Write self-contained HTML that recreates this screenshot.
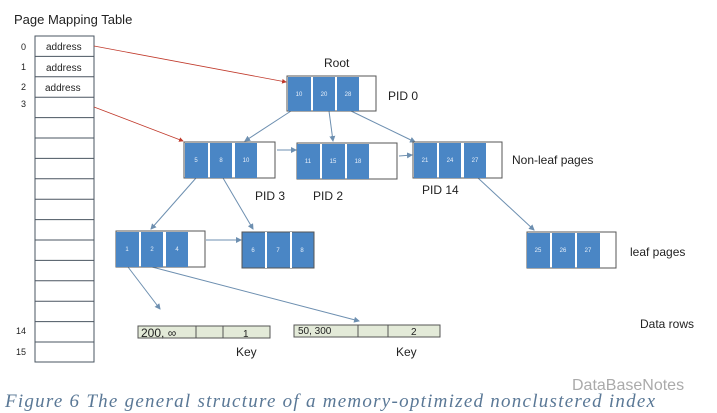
<!DOCTYPE html><html><head><style>body{margin:0;background:#fff}svg{display:block}</style></head><body>
<svg width="717" height="413" xmlns="http://www.w3.org/2000/svg" font-family="Liberation Sans, sans-serif">
<defs>
<marker id="b" markerWidth="6" markerHeight="6" refX="5" refY="3" orient="auto"><path d="M0,0L6,3L0,6z" fill="#6d8fb0"/></marker>
<marker id="r" markerWidth="6" markerHeight="6" refX="5" refY="3" orient="auto"><path d="M0,0L6,3L0,6z" fill="#c0392b"/></marker>
</defs>
<text x="14" y="24" font-size="13" fill="#222">Page Mapping Table</text>
<g stroke="#4a5560" stroke-width="1" fill="#fff">
<rect x="35" y="36" width="59" height="326"/>
<line x1="35" y1="56.4" x2="94" y2="56.4"/><line x1="35" y1="76.8" x2="94" y2="76.8"/><line x1="35" y1="97.2" x2="94" y2="97.2"/><line x1="35" y1="117.6" x2="94" y2="117.6"/><line x1="35" y1="138" x2="94" y2="138"/><line x1="35" y1="158.4" x2="94" y2="158.4"/><line x1="35" y1="178.8" x2="94" y2="178.8"/><line x1="35" y1="199.2" x2="94" y2="199.2"/><line x1="35" y1="219.6" x2="94" y2="219.6"/><line x1="35" y1="240" x2="94" y2="240"/><line x1="35" y1="260.4" x2="94" y2="260.4"/><line x1="35" y1="280.8" x2="94" y2="280.8"/><line x1="35" y1="301.2" x2="94" y2="301.2"/><line x1="35" y1="321.6" x2="94" y2="321.6"/><line x1="35" y1="342" x2="94" y2="342"/>
</g>
<g font-size="9" fill="#222"><text x="21" y="50">0</text><text x="21" y="70">1</text><text x="21" y="90">2</text><text x="21" y="107">3</text><text x="16" y="334">14</text><text x="16" y="355">15</text></g>
<g font-size="10" fill="#222"><text x="46" y="50">address</text><text x="46" y="71">address</text><text x="45" y="91">address</text></g>
<g stroke="#6d8fb0" stroke-width="1" fill="none" marker-end="url(#b)">
<line x1="291" y1="111" x2="245" y2="141"/><line x1="329" y1="111" x2="333" y2="141"/><line x1="351" y1="111" x2="415" y2="142"/>
<line x1="277" y1="150" x2="296" y2="150"/><line x1="399" y1="156" x2="412" y2="155"/>
<line x1="196" y1="178" x2="151" y2="229"/><line x1="223" y1="178" x2="253" y2="229"/><line x1="478" y1="178" x2="534" y2="230"/>
<line x1="206" y1="240" x2="241" y2="240"/>
<line x1="128" y1="267" x2="160" y2="309"/><line x1="152" y1="267" x2="359" y2="321"/>
</g>
<g stroke="#c0392b" stroke-width="0.8" marker-end="url(#r)"><line x1="94" y1="46" x2="286" y2="82"/><line x1="94" y1="107" x2="183" y2="141"/></g>
<g font-size="6" fill="#e8f0fa" text-anchor="middle">
<rect x="287" y="76" width="89" height="35" fill="#fff" stroke="#555"/>
<rect x="288" y="77" width="23" height="34" fill="#4a86c5"/><rect x="313" y="77" width="22" height="34" fill="#4a86c5"/><rect x="337" y="77" width="22" height="34" fill="#4a86c5"/>
<text x="299" y="96">10</text><text x="324" y="96">20</text><text x="348" y="96">28</text>
<rect x="184" y="142" width="91" height="36" fill="#fff" stroke="#555"/>
<rect x="185" y="143" width="23" height="35" fill="#4a86c5"/><rect x="210" y="143" width="22" height="35" fill="#4a86c5"/><rect x="235" y="143" width="22" height="35" fill="#4a86c5"/>
<text x="196" y="162">5</text><text x="221" y="162">8</text><text x="246" y="162">10</text>
<rect x="297" y="143" width="100" height="36" fill="#fff" stroke="#555"/>
<rect x="297" y="144" width="23" height="35" fill="#4a86c5"/><rect x="322" y="144" width="23" height="35" fill="#4a86c5"/><rect x="347" y="144" width="22" height="35" fill="#4a86c5"/>
<text x="308" y="163">11</text><text x="333" y="163">15</text><text x="358" y="163">18</text>
<rect x="413" y="142" width="89" height="36" fill="#fff" stroke="#555"/>
<rect x="414" y="143" width="23" height="35" fill="#4a86c5"/><rect x="439" y="143" width="22" height="35" fill="#4a86c5"/><rect x="464" y="143" width="22" height="35" fill="#4a86c5"/>
<text x="425" y="162">21</text><text x="450" y="162">24</text><text x="475" y="162">27</text>
<rect x="116" y="231" width="89" height="36" fill="#fff" stroke="#555"/>
<rect x="116" y="232" width="23" height="35" fill="#4a86c5"/><rect x="141" y="232" width="22" height="35" fill="#4a86c5"/><rect x="166" y="232" width="22" height="35" fill="#4a86c5"/>
<text x="127" y="251">1</text><text x="152" y="251">2</text><text x="177" y="251">4</text>
<rect x="242" y="232" width="72" height="36" fill="#4a86c5" stroke="#555"/>
<rect x="265" y="232" width="2" height="36" fill="#fff"/><rect x="290" y="232" width="2" height="36" fill="#fff"/>
<text x="253" y="252">6</text><text x="278" y="252">7</text><text x="302" y="252">8</text>
<rect x="527" y="232" width="89" height="36" fill="#fff" stroke="#555"/>
<rect x="527" y="233" width="23" height="35" fill="#4a86c5"/><rect x="552" y="233" width="23" height="35" fill="#4a86c5"/><rect x="577" y="233" width="23" height="35" fill="#4a86c5"/>
<text x="538" y="252">25</text><text x="563" y="252">26</text><text x="588" y="252">27</text>
</g>
<g font-size="12" fill="#222">
<text x="324" y="67">Root</text><text x="388" y="100">PID 0</text><text x="512" y="164">Non-leaf pages</text>
<text x="255" y="200">PID 3</text><text x="313" y="200">PID 2</text><text x="422" y="194">PID 14</text>
<text x="630" y="256">leaf pages</text><text x="640" y="328">Data rows</text>
<text x="236" y="356">Key</text><text x="396" y="356">Key</text></g>
<g stroke="#555" fill="#e3ead8">
<rect x="138" y="326" width="132" height="12"/><line x1="196" y1="326" x2="196" y2="338"/><line x1="223" y1="326" x2="223" y2="338"/>
<rect x="294" y="325" width="146" height="12"/><line x1="358" y1="325" x2="358" y2="337"/><line x1="388" y1="325" x2="388" y2="337"/>
</g>
<g fill="#222"><text x="141" y="337" font-size="12">200, ∞</text><text x="243" y="337" font-size="10">1</text>
<text x="298" y="334" font-size="10">50, 300</text><text x="411" y="335" font-size="10">2</text></g>
<text x="572" y="390" font-size="16" fill="#aaa">DataBaseNotes</text>
<text x="5" y="407" font-size="19" font-style="italic" font-family="Liberation Serif, serif" fill="#5a7896" textLength="650" lengthAdjust="spacing">Figure 6 The general structure of a memory-optimized nonclustered index</text>
</svg>
</body></html>
